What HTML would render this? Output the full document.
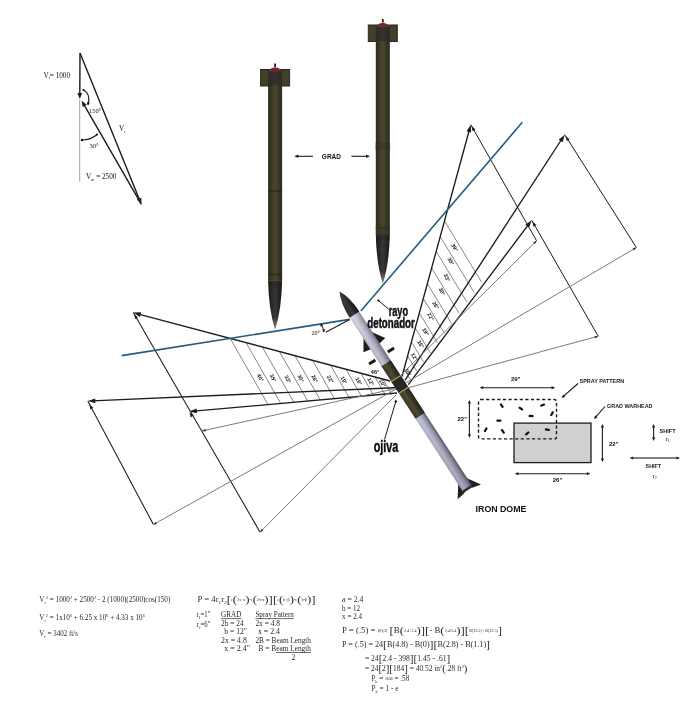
<!DOCTYPE html>
<html><head><meta charset="utf-8"><style>
html,body{margin:0;padding:0;background:#fff;width:700px;height:715px;overflow:hidden}
svg{display:block;will-change:transform}
</style></head><body>
<svg width="700" height="715" viewBox="0 0 700 715">
<rect width="700" height="715" fill="#fff"/>
<line x1="79.7" y1="100.0" x2="79.7" y2="181.5" stroke="#a0a0a0" stroke-width="1.0" />
<line x1="80.0" y1="53.0" x2="79.8" y2="95.4" stroke="#1c1c1c" stroke-width="1.4" />
<polygon points="79.8,99.0 77.4,93.0 82.2,93.0" fill="#1c1c1c"/>
<line x1="80.0" y1="53.0" x2="140.0" y2="201.0" stroke="#1c1c1c" stroke-width="1.4" />
<polygon points="141.4,204.3 136.9,199.6 141.4,197.8" fill="#1c1c1c"/>
<line x1="141.4" y1="204.3" x2="83.5" y2="103.8" stroke="#1c1c1c" stroke-width="1.4" />
<polygon points="81.7,100.7 86.8,104.7 82.6,107.1" fill="#1c1c1c"/>
<path d="M83.5,90 Q91,94 88,104.5" fill="none" stroke="#1c1c1c" stroke-width="1.2"/>
<circle cx="83.5" cy="90" r="1.1" fill="#111"/>
<polygon points="87.8,105.5 86.7,102.0 90.0,102.7" fill="#1c1c1c"/>
<path d="M82,140 Q91,140 97,134.5" fill="none" stroke="#1c1c1c" stroke-width="1.2"/>
<circle cx="82" cy="140" r="1.2" fill="#111"/>
<circle cx="97" cy="134.5" r="1" fill="#111"/>
<text x="43.5" y="77.5" font-family="Liberation Serif" font-size="7.2" font-weight="normal" text-anchor="start" fill="#111" >V<tspan font-size="4" dy="1.5">t</tspan><tspan dy="-1.5">= 1000</tspan></text>
<text x="89.0" y="112.5" font-family="Liberation Serif" font-size="6.4" font-weight="normal" text-anchor="start" fill="#111" >150°</text>
<text x="89.5" y="148.0" font-family="Liberation Serif" font-size="6.4" font-weight="normal" text-anchor="start" fill="#111" >30°</text>
<text x="119.0" y="131.0" font-family="Liberation Serif" font-size="7.2" font-weight="normal" text-anchor="start" fill="#111" >V<tspan font-size="4" dy="1.5">r</tspan></text>
<text x="86.0" y="179.0" font-family="Liberation Serif" font-size="7.2" font-weight="normal" text-anchor="start" fill="#111" >V<tspan font-size="4" dy="1.5">m</tspan><tspan dy="-1.5"> = 2500</tspan></text>
<line x1="230.2" y1="338.4" x2="268.0" y2="404.6" stroke="#6a6a6a" stroke-width="0.8" />
<line x1="246.0" y1="342.6" x2="280.7" y2="403.4" stroke="#6a6a6a" stroke-width="0.8" />
<line x1="262.2" y1="346.9" x2="293.8" y2="402.2" stroke="#6a6a6a" stroke-width="0.8" />
<line x1="279.5" y1="351.6" x2="307.7" y2="401.0" stroke="#6a6a6a" stroke-width="0.8" />
<line x1="295.0" y1="355.7" x2="320.2" y2="399.9" stroke="#6a6a6a" stroke-width="0.8" />
<line x1="312.5" y1="360.3" x2="334.4" y2="398.6" stroke="#6a6a6a" stroke-width="0.8" />
<line x1="330.5" y1="365.1" x2="348.9" y2="397.3" stroke="#6a6a6a" stroke-width="0.8" />
<line x1="346.0" y1="369.3" x2="361.4" y2="396.2" stroke="#6a6a6a" stroke-width="0.8" />
<line x1="361.0" y1="373.3" x2="373.5" y2="395.1" stroke="#6a6a6a" stroke-width="0.8" />
<line x1="375.0" y1="377.0" x2="384.8" y2="394.1" stroke="#6a6a6a" stroke-width="0.8" />
<line x1="383.0" y1="379.1" x2="391.2" y2="393.5" stroke="#6a6a6a" stroke-width="0.8" />
<text x="260" y="378" font-family="Liberation Sans" font-weight="bold" font-size="5.3" fill="#111" text-anchor="middle" dominant-baseline="middle" transform="rotate(62 260 378)">40°</text>
<text x="272.7" y="378.2" font-family="Liberation Sans" font-weight="bold" font-size="5.3" fill="#111" text-anchor="middle" dominant-baseline="middle" transform="rotate(62 272.7 378.2)">35°</text>
<text x="287.5" y="379.5" font-family="Liberation Sans" font-weight="bold" font-size="5.3" fill="#111" text-anchor="middle" dominant-baseline="middle" transform="rotate(62 287.5 379.5)">33°</text>
<text x="300.4" y="378.6" font-family="Liberation Sans" font-weight="bold" font-size="5.3" fill="#111" text-anchor="middle" dominant-baseline="middle" transform="rotate(62 300.4 378.6)">30°</text>
<text x="314.3" y="379" font-family="Liberation Sans" font-weight="bold" font-size="5.3" fill="#111" text-anchor="middle" dominant-baseline="middle" transform="rotate(62 314.3 379)">26°</text>
<text x="330" y="379.5" font-family="Liberation Sans" font-weight="bold" font-size="5.3" fill="#111" text-anchor="middle" dominant-baseline="middle" transform="rotate(62 330 379.5)">22°</text>
<text x="343.5" y="380.5" font-family="Liberation Sans" font-weight="bold" font-size="5.3" fill="#111" text-anchor="middle" dominant-baseline="middle" transform="rotate(62 343.5 380.5)">19°</text>
<text x="358.5" y="381.5" font-family="Liberation Sans" font-weight="bold" font-size="5.3" fill="#111" text-anchor="middle" dominant-baseline="middle" transform="rotate(62 358.5 381.5)">16°</text>
<text x="370.5" y="382" font-family="Liberation Sans" font-weight="bold" font-size="5.3" fill="#111" text-anchor="middle" dominant-baseline="middle" transform="rotate(62 370.5 382)">12°</text>
<text x="382" y="383.5" font-family="Liberation Sans" font-weight="bold" font-size="5.3" fill="#111" text-anchor="middle" dominant-baseline="middle" transform="rotate(62 382 383.5)">10°</text>
<line x1="390.0" y1="381.0" x2="137.6" y2="313.8" stroke="#1c1c1c" stroke-width="1.35" />
<polygon points="133.3,312.6 141.2,312.2 139.9,316.9" fill="#1c1c1c"/>
<line x1="400.0" y1="387.5" x2="92.3" y2="400.9" stroke="#1c1c1c" stroke-width="1.35" />
<polygon points="87.8,401.1 95.2,398.4 95.4,403.2" fill="#1c1c1c"/>
<line x1="397.0" y1="393.0" x2="193.8" y2="411.2" stroke="#1c1c1c" stroke-width="1.35" />
<polygon points="189.3,411.6 196.6,408.5 197.0,413.3" fill="#1c1c1c"/>
<line x1="133.3" y1="312.6" x2="260.1" y2="532.2" stroke="#1c1c1c" stroke-width="1.05" />
<line x1="87.8" y1="401.1" x2="153.4" y2="524.5" stroke="#1c1c1c" stroke-width="1.05" />
<line x1="260.1" y1="532.2" x2="396.0" y2="395.0" stroke="#7a7a7a" stroke-width="1.0" />
<line x1="153.4" y1="524.5" x2="397.0" y2="388.6" stroke="#7a7a7a" stroke-width="1.0" />
<line x1="201.7" y1="431.0" x2="396.0" y2="388.5" stroke="#7a7a7a" stroke-width="1.0" />
<polygon points="134.1,313.9 138.0,317.4 135.1,319.1" fill="#1c1c1c"/>
<polygon points="89.4,404.2 93.3,407.8 90.3,409.4" fill="#1c1c1c"/>
<polygon points="189.6,412.2 193.6,415.6 190.7,417.4" fill="#1c1c1c"/>
<polygon points="202.2,430.9 205.3,428.8 205.9,431.5" fill="#333"/>
<polygon points="260.1,532.2 261.6,528.8 263.5,530.6" fill="#333"/>
<polygon points="153.4,524.5 155.8,521.7 157.1,523.9" fill="#333"/>
<line x1="444.5" y1="221.0" x2="481.5" y2="282.0" stroke="#6a6a6a" stroke-width="0.8" />
<line x1="440.2" y1="236.6" x2="474.0" y2="292.3" stroke="#6a6a6a" stroke-width="0.8" />
<line x1="436.2" y1="251.4" x2="466.9" y2="302.1" stroke="#6a6a6a" stroke-width="0.8" />
<line x1="431.6" y1="268.0" x2="459.0" y2="313.1" stroke="#6a6a6a" stroke-width="0.8" />
<line x1="427.4" y1="283.7" x2="451.4" y2="323.4" stroke="#6a6a6a" stroke-width="0.8" />
<line x1="423.3" y1="298.4" x2="444.4" y2="333.1" stroke="#6a6a6a" stroke-width="0.8" />
<line x1="419.4" y1="313.0" x2="437.4" y2="342.8" stroke="#6a6a6a" stroke-width="0.8" />
<line x1="415.3" y1="328.0" x2="430.2" y2="352.7" stroke="#6a6a6a" stroke-width="0.8" />
<line x1="411.4" y1="342.0" x2="423.5" y2="361.9" stroke="#6a6a6a" stroke-width="0.8" />
<line x1="407.6" y1="356.0" x2="416.8" y2="371.2" stroke="#6a6a6a" stroke-width="0.8" />
<line x1="404.0" y1="369.0" x2="410.6" y2="379.8" stroke="#6a6a6a" stroke-width="0.8" />
<text x="454.2" y="247.7" font-family="Liberation Sans" font-weight="bold" font-size="5.3" fill="#111" text-anchor="middle" dominant-baseline="middle" transform="rotate(60 454.2 247.7)">39°</text>
<text x="450.4" y="261.5" font-family="Liberation Sans" font-weight="bold" font-size="5.3" fill="#111" text-anchor="middle" dominant-baseline="middle" transform="rotate(60 450.4 261.5)">35°</text>
<text x="446.6" y="277.9" font-family="Liberation Sans" font-weight="bold" font-size="5.3" fill="#111" text-anchor="middle" dominant-baseline="middle" transform="rotate(60 446.6 277.9)">33°</text>
<text x="441.6" y="291.7" font-family="Liberation Sans" font-weight="bold" font-size="5.3" fill="#111" text-anchor="middle" dominant-baseline="middle" transform="rotate(60 441.6 291.7)">30°</text>
<text x="435.3" y="305.5" font-family="Liberation Sans" font-weight="bold" font-size="5.3" fill="#111" text-anchor="middle" dominant-baseline="middle" transform="rotate(60 435.3 305.5)">26°</text>
<text x="430.3" y="316.9" font-family="Liberation Sans" font-weight="bold" font-size="5.3" fill="#111" text-anchor="middle" dominant-baseline="middle" transform="rotate(60 430.3 316.9)">22°</text>
<text x="425.2" y="332" font-family="Liberation Sans" font-weight="bold" font-size="5.3" fill="#111" text-anchor="middle" dominant-baseline="middle" transform="rotate(60 425.2 332)">19°</text>
<text x="420.2" y="344.5" font-family="Liberation Sans" font-weight="bold" font-size="5.3" fill="#111" text-anchor="middle" dominant-baseline="middle" transform="rotate(60 420.2 344.5)">16°</text>
<text x="413.9" y="357.1" font-family="Liberation Sans" font-weight="bold" font-size="5.3" fill="#111" text-anchor="middle" dominant-baseline="middle" transform="rotate(60 413.9 357.1)">12°</text>
<text x="407.6" y="372.2" font-family="Liberation Sans" font-weight="bold" font-size="5.3" fill="#111" text-anchor="middle" dominant-baseline="middle" transform="rotate(60 407.6 372.2)">10°</text>
<line x1="402.0" y1="376.5" x2="469.6" y2="129.0" stroke="#1c1c1c" stroke-width="1.35" />
<polygon points="470.8,124.7 471.1,132.6 466.5,131.3" fill="#1c1c1c"/>
<line x1="404.9" y1="380.3" x2="562.2" y2="138.5" stroke="#1c1c1c" stroke-width="1.35" />
<polygon points="564.7,134.7 562.6,142.3 558.6,139.7" fill="#1c1c1c"/>
<line x1="408.3" y1="384.6" x2="529.0" y2="223.8" stroke="#1c1c1c" stroke-width="1.35" />
<polygon points="531.7,220.2 529.1,227.6 525.3,224.8" fill="#1c1c1c"/>
<line x1="470.8" y1="124.7" x2="536.6" y2="240.8" stroke="#1c1c1c" stroke-width="1.0" />
<line x1="564.7" y1="134.7" x2="636.4" y2="247.5" stroke="#1c1c1c" stroke-width="1.0" />
<line x1="531.7" y1="220.2" x2="598.2" y2="336.2" stroke="#1c1c1c" stroke-width="1.0" />
<line x1="536.6" y1="240.8" x2="395.0" y2="381.0" stroke="#7a7a7a" stroke-width="1.0" />
<line x1="636.4" y1="247.5" x2="397.0" y2="388.0" stroke="#7a7a7a" stroke-width="1.0" />
<line x1="598.2" y1="336.2" x2="400.0" y2="390.0" stroke="#7a7a7a" stroke-width="1.0" />
<polygon points="471.5,126.0 475.5,129.5 472.5,131.2" fill="#1c1c1c"/>
<polygon points="565.5,136.0 569.6,139.3 566.8,141.1" fill="#1c1c1c"/>
<polygon points="532.4,221.5 536.4,225.0 533.5,226.7" fill="#1c1c1c"/>
<polygon points="536.6,240.8 535.0,244.2 533.2,242.3" fill="#333"/>
<polygon points="636.4,247.5 634.0,250.4 632.7,248.2" fill="#333"/>
<polygon points="598.2,336.2 595.2,338.4 594.5,335.9" fill="#333"/>
<line x1="121.7" y1="355.6" x2="349.7" y2="319.4" stroke="#265b7e" stroke-width="1.6" />
<line x1="360.9" y1="310.9" x2="522.3" y2="122.3" stroke="#265b7e" stroke-width="1.6" />
<line x1="349.7" y1="319.4" x2="325.7" y2="332.3" stroke="#1c1c1c" stroke-width="1.1" />
<path d="M320.5,324 Q324,328 323.5,332" fill="none" stroke="#1c1c1c" stroke-width="1"/>
<polygon points="320.3,323.5 323.4,325.0 320.8,326.9" fill="#1c1c1c"/>
<polygon points="323.7,332.5 322.4,329.4 325.6,329.6" fill="#1c1c1c"/>
<text x="311.5" y="334.5" font-family="Liberation Serif" font-size="6" font-weight="normal" text-anchor="start" fill="#111" >20°</text>
<defs><linearGradient id="og275" x1="0" x2="1" y1="0" y2="0"><stop offset="0" stop-color="#2c2a1a"/><stop offset="0.5" stop-color="#4a4630"/><stop offset="1" stop-color="#2a281a"/></linearGradient><linearGradient id="ng275" x1="0" x2="1" y1="0" y2="0"><stop offset="0" stop-color="#1a1a1a"/><stop offset="0.5" stop-color="#383838"/><stop offset="1" stop-color="#161616"/></linearGradient></defs>
<rect x="260.6" y="69.5" width="29" height="16.5" fill="#434029" stroke="#29271a" stroke-width="1"/>
<rect x="268.1" y="69.5" width="14" height="210.8" fill="url(#og275)"/>
<rect x="268.6" y="69.5" width="13" height="16" fill="#2c2b2e" opacity="0.7"/>
<path d="M268.6,71.5 Q270.1,67.5 275.1,67.2 Q280.1,67.5 281.6,71.5 Z" fill="#762830"/>
<rect x="274.20000000000005" y="63.5" width="1.8" height="3.5" fill="#3a1a1a"/>
<defs><linearGradient id="nv275" x1="0" x2="0" y1="280.3" y2="329.5" gradientUnits="userSpaceOnUse"><stop offset="0" stop-color="#3a3422" stop-opacity="0.6"/><stop offset="0.15" stop-color="#000" stop-opacity="0"/><stop offset="0.75" stop-color="#fff" stop-opacity="0"/><stop offset="1" stop-color="#fff" stop-opacity="0.4"/></linearGradient></defs>
<path d="M268.1,280.3 L282.1,280.3 Q281.6,309.82 275.1,329.5 Q268.6,309.82 268.1,280.3 Z" fill="url(#ng275)"/>
<path d="M268.1,280.3 L282.1,280.3 Q281.6,309.82 275.1,329.5 Q268.6,309.82 268.1,280.3 Z" fill="url(#nv275)"/>
<rect x="268.1" y="273.3" width="14" height="2" fill="#2a2818" opacity="0.6"/>
<rect x="268.1" y="190" width="14" height="2" fill="#2a2818" opacity="0.6"/>
<defs><linearGradient id="og382" x1="0" x2="1" y1="0" y2="0"><stop offset="0" stop-color="#2c2a1a"/><stop offset="0.5" stop-color="#4a4630"/><stop offset="1" stop-color="#2a281a"/></linearGradient><linearGradient id="ng382" x1="0" x2="1" y1="0" y2="0"><stop offset="0" stop-color="#1a1a1a"/><stop offset="0.5" stop-color="#383838"/><stop offset="1" stop-color="#161616"/></linearGradient></defs>
<rect x="368.3" y="25.0" width="29" height="16.5" fill="#434029" stroke="#29271a" stroke-width="1"/>
<rect x="375.8" y="25.0" width="14" height="209.0" fill="url(#og382)"/>
<rect x="376.3" y="25.0" width="13" height="16" fill="#2c2b2e" opacity="0.7"/>
<path d="M376.3,27.0 Q377.8,23.0 382.8,22.7 Q387.8,23.0 389.3,27.0 Z" fill="#762830"/>
<rect x="381.90000000000003" y="19.0" width="1.8" height="3.5" fill="#3a1a1a"/>
<defs><linearGradient id="nv382" x1="0" x2="0" y1="234" y2="283.5" gradientUnits="userSpaceOnUse"><stop offset="0" stop-color="#3a3422" stop-opacity="0.6"/><stop offset="0.15" stop-color="#000" stop-opacity="0"/><stop offset="0.75" stop-color="#fff" stop-opacity="0"/><stop offset="1" stop-color="#fff" stop-opacity="0.4"/></linearGradient></defs>
<path d="M375.8,234 L389.8,234 Q389.3,263.7 382.8,283.5 Q376.3,263.7 375.8,234 Z" fill="url(#ng382)"/>
<path d="M375.8,234 L389.8,234 Q389.3,263.7 382.8,283.5 Q376.3,263.7 375.8,234 Z" fill="url(#nv382)"/>
<rect x="375.8" y="227" width="14" height="2" fill="#2a2818" opacity="0.6"/>
<rect x="375.8" y="226" width="14" height="8" fill="#3a3724" opacity="0.5"/>
<rect x="375.3" y="143" width="15" height="7" fill="#2e2b1d" opacity="0.35"/>
<line x1="312.9" y1="156.3" x2="296.7" y2="156.3" stroke="#1c1c1c" stroke-width="1.1" />
<polygon points="294.3,156.3 298.3,154.5 298.3,158.1" fill="#1c1c1c"/>
<line x1="351.4" y1="156.3" x2="367.6" y2="156.3" stroke="#1c1c1c" stroke-width="1.1" />
<polygon points="370.0,156.3 366.0,158.1 366.0,154.5" fill="#1c1c1c"/>
<text x="331.4" y="159.2" font-family="Liberation Sans" font-size="6.5" font-weight="bold" text-anchor="middle" fill="#111" >GRAD</text>
<g transform="translate(339.5,291.5) rotate(57)">
<defs><linearGradient id="bg" x1="0" x2="0" y1="-5.5" y2="5.5" gradientUnits="userSpaceOnUse"><stop offset="0" stop-color="#5e5e70"/><stop offset="0.3" stop-color="#9c9cb4"/><stop offset="0.7" stop-color="#cacade"/><stop offset="1" stop-color="#b4b4c8"/></linearGradient><linearGradient id="ax" x1="27" x2="236" y1="0" y2="0" gradientUnits="userSpaceOnUse"><stop offset="0" stop-color="#ffffff" stop-opacity="0.25"/><stop offset="0.5" stop-color="#000" stop-opacity="0"/><stop offset="1" stop-color="#000000" stop-opacity="0.18"/></linearGradient><linearGradient id="olg" x1="0" x2="0" y1="-5.5" y2="5.5" gradientUnits="userSpaceOnUse"><stop offset="0" stop-color="#22211a"/><stop offset="0.6" stop-color="#4e4a33"/><stop offset="1" stop-color="#3a3726"/></linearGradient><linearGradient id="ng" x1="0" x2="0" y1="-5.5" y2="5.5" gradientUnits="userSpaceOnUse"><stop offset="0" stop-color="#151515"/><stop offset="0.6" stop-color="#3a3a3a"/><stop offset="1" stop-color="#2a2a2a"/></linearGradient></defs>
<polygon points="51,-4.5 64,-13 65.5,-4.5" fill="#1e1e1e"/>
<polygon points="51,4.5 64,13 65.5,4.5" fill="#1e1e1e"/>
<rect x="75.5" y="-15" width="3" height="7.5" fill="#1a1a1a"/>
<rect x="75.5" y="7.2" width="3" height="7.5" fill="#1a1a1a"/>
<polygon points="225,-4.5 239,-13.5 237,-4.5" fill="#1e1e1e"/>
<polygon points="225,4.5 238.5,14 237,4.5" fill="#1e1e1e"/>
<rect x="27" y="-5.5" width="209" height="11" fill="url(#bg)"/>
<rect x="27" y="-5.5" width="209" height="11" fill="url(#ax)"/>
<rect x="85.6" y="-5.5" width="62.5" height="11" fill="url(#olg)"/>
<rect x="104" y="-5.5" width="13.5" height="11" fill="#28281f"/>
<rect x="103.2" y="-5.5" width="1.2" height="11" fill="#b0a070"/>
<rect x="117.2" y="-5.5" width="1.2" height="11" fill="#b0a070"/>
<path d="M0,0 Q10,-5.5 27.5,-5.8 L27.5,5.8 Q10,5.5 0,0 Z" fill="url(#ng)"/>
<rect x="234" y="-5.5" width="2.5" height="11" fill="#2a2a30"/>
</g>
<text x="388.7" y="315.6" font-family="Liberation Sans" font-weight="bold" font-size="14" fill="#111" stroke="#111" stroke-width="0.5" textLength="19.3" lengthAdjust="spacingAndGlyphs">rayo</text>
<text x="367.3" y="327.6" font-family="Liberation Sans" font-weight="bold" font-size="14" fill="#111" stroke="#111" stroke-width="0.5" textLength="47.5" lengthAdjust="spacingAndGlyphs">detonador</text>
<line x1="388.7" y1="309.1" x2="378.4" y2="300.6" stroke="#1c1c1c" stroke-width="1.0" />
<circle cx="378.4" cy="300.6" r="1.1" fill="#111"/>
<text x="373.7" y="451.5" font-family="Liberation Sans" font-weight="bold" font-size="17" fill="#111" stroke="#111" stroke-width="0.5" textLength="24.7" lengthAdjust="spacingAndGlyphs">ojiva</text>
<line x1="384.6" y1="439.2" x2="395.8" y2="401.5" stroke="#1c1c1c" stroke-width="1.0" />
<circle cx="395.8" cy="401.5" r="1.2" fill="#111"/>
<text x="375.0" y="374.0" font-family="Liberation Sans" font-size="5.5" font-weight="bold" text-anchor="middle" fill="#111" >46°</text>
<text x="475.6" y="512.3" font-family="Liberation Sans" font-size="9.6" font-weight="bold" text-anchor="start" fill="#111" textLength="50.8" lengthAdjust="spacingAndGlyphs">IRON DOME</text>
<rect x="514" y="423.1" width="77" height="39.5" fill="#d0d0d0" stroke="#1c1c1c" stroke-width="1.3"/>
<rect x="478.5" y="399.5" width="78" height="39.4" rx="2" fill="none" stroke="#1c1c1c" stroke-width="1.4" stroke-dasharray="3.2 2.4"/>
<rect x="499.2" y="404.59999999999997" width="5" height="2.2" rx="0.7" fill="#111" transform="rotate(55 501.7 405.7)"/>
<rect x="518.4" y="407.5" width="5" height="2.2" rx="0.7" fill="#111" transform="rotate(35 520.9 408.6)"/>
<rect x="540.1" y="404.0" width="5" height="2.2" rx="0.7" fill="#111" transform="rotate(-20 542.6 405.1)"/>
<rect x="549.5" y="412.59999999999997" width="5" height="2.2" rx="0.7" fill="#111" transform="rotate(-60 552 413.7)"/>
<rect x="528.6" y="414.9" width="5" height="2.2" rx="0.7" fill="#111" transform="rotate(5 531.1 416)"/>
<rect x="496.4" y="419.5" width="5" height="2.2" rx="0.7" fill="#111" transform="rotate(0 498.9 420.6)"/>
<rect x="483.2" y="428.59999999999997" width="5" height="2.2" rx="0.7" fill="#111" transform="rotate(-60 485.7 429.7)"/>
<rect x="500.4" y="430.29999999999995" width="5" height="2.2" rx="0.7" fill="#111" transform="rotate(55 502.9 431.4)"/>
<rect x="524.7" y="432.29999999999995" width="5" height="2.2" rx="0.7" fill="#111" transform="rotate(-40 527.2 433.4)"/>
<rect x="544.9" y="428.59999999999997" width="5" height="2.2" rx="0.7" fill="#111" transform="rotate(10 547.4 429.7)"/>
<line x1="517.0" y1="387.7" x2="481.8" y2="387.7" stroke="#1c1c1c" stroke-width="1.1" />
<polygon points="479.7,387.7 483.2,386.1 483.2,389.3" fill="#1c1c1c"/>
<line x1="517.0" y1="387.7" x2="553.0" y2="387.7" stroke="#1c1c1c" stroke-width="1.1" />
<polygon points="555.1,387.7 551.6,389.3 551.6,386.1" fill="#1c1c1c"/>
<text x="515.7" y="380.5" font-family="Liberation Sans" font-size="6" font-weight="bold" text-anchor="middle" fill="#111" >29"</text>
<line x1="469.4" y1="418.0" x2="469.4" y2="402.1" stroke="#1c1c1c" stroke-width="1.1" />
<polygon points="469.4,400.0 471.0,403.5 467.8,403.5" fill="#1c1c1c"/>
<line x1="469.4" y1="418.0" x2="469.4" y2="435.6" stroke="#1c1c1c" stroke-width="1.1" />
<polygon points="469.4,437.7 467.8,434.2 471.0,434.2" fill="#1c1c1c"/>
<text x="467.0" y="421.0" font-family="Liberation Sans" font-size="6" font-weight="bold" text-anchor="end" fill="#111" >22"</text>
<line x1="552.0" y1="473.7" x2="517.0" y2="473.7" stroke="#1c1c1c" stroke-width="1.1" />
<polygon points="514.9,473.7 518.4,472.1 518.4,475.3" fill="#1c1c1c"/>
<line x1="552.0" y1="473.7" x2="588.3" y2="473.7" stroke="#1c1c1c" stroke-width="1.1" />
<polygon points="590.4,473.7 586.9,475.3 586.9,472.1" fill="#1c1c1c"/>
<text x="557.5" y="482.0" font-family="Liberation Sans" font-size="6" font-weight="bold" text-anchor="middle" fill="#111" >26"</text>
<line x1="602.4" y1="443.0" x2="602.4" y2="426.1" stroke="#1c1c1c" stroke-width="1.1" />
<polygon points="602.4,424.0 604.0,427.5 600.8,427.5" fill="#1c1c1c"/>
<line x1="602.4" y1="443.0" x2="602.4" y2="459.9" stroke="#1c1c1c" stroke-width="1.1" />
<polygon points="602.4,462.0 600.8,458.5 604.0,458.5" fill="#1c1c1c"/>
<text x="609.0" y="446.0" font-family="Liberation Sans" font-size="6" font-weight="bold" text-anchor="start" fill="#111" >22"</text>
<text x="579.6" y="383.0" font-family="Liberation Sans" font-size="6.2" font-weight="bold" text-anchor="start" fill="#222" textLength="44.5" lengthAdjust="spacingAndGlyphs">SPRAY PATTERN</text>
<line x1="578.0" y1="383.5" x2="563.1" y2="396.6" stroke="#1c1c1c" stroke-width="1.1" />
<polygon points="561.5,398.0 563.1,394.5 565.2,396.9" fill="#1c1c1c"/>
<text x="607.0" y="407.5" font-family="Liberation Sans" font-size="6.2" font-weight="bold" text-anchor="start" fill="#222" textLength="45.5" lengthAdjust="spacingAndGlyphs">GRAD WARHEAD</text>
<line x1="605.0" y1="406.5" x2="595.4" y2="417.4" stroke="#1c1c1c" stroke-width="1.1" />
<polygon points="594.0,419.0 595.1,415.3 597.5,417.4" fill="#1c1c1c"/>
<line x1="653.6" y1="432.0" x2="653.6" y2="426.1" stroke="#1c1c1c" stroke-width="1.1" />
<polygon points="653.6,424.0 655.2,427.5 652.0,427.5" fill="#1c1c1c"/>
<line x1="653.6" y1="432.0" x2="653.6" y2="438.9" stroke="#1c1c1c" stroke-width="1.1" />
<polygon points="653.6,441.0 652.0,437.5 655.2,437.5" fill="#1c1c1c"/>
<text x="659.6" y="432.5" font-family="Liberation Sans" font-size="6.2" font-weight="bold" text-anchor="start" fill="#222" textLength="16" lengthAdjust="spacingAndGlyphs">SHIFT</text>
<text x="665.5" y="440.5" font-family="Liberation Serif" font-size="7" font-weight="normal" text-anchor="start" fill="#111" >r<tspan font-size="4" dy="1.5">1</tspan></text>
<line x1="655.0" y1="458.0" x2="631.7" y2="458.0" stroke="#1c1c1c" stroke-width="1.1" />
<polygon points="629.6,458.0 633.1,456.4 633.1,459.6" fill="#1c1c1c"/>
<line x1="655.0" y1="458.0" x2="677.9" y2="458.0" stroke="#1c1c1c" stroke-width="1.1" />
<polygon points="680.0,458.0 676.5,459.6 676.5,456.4" fill="#1c1c1c"/>
<text x="645.6" y="467.5" font-family="Liberation Sans" font-size="6.2" font-weight="bold" text-anchor="start" fill="#222" textLength="15.5" lengthAdjust="spacingAndGlyphs">SHIFT</text>
<text x="652.5" y="477.5" font-family="Liberation Serif" font-size="7" font-weight="normal" text-anchor="start" fill="#111" >r<tspan font-size="4" dy="1.5">2</tspan></text>
<text x="39.3" y="602" font-family="Liberation Serif" font-size="7.5" fill="#2a2a2a" textLength="131" lengthAdjust="spacingAndGlyphs" >V<tspan font-size="4.5" dy="2">r</tspan><tspan dy="-2">​</tspan><tspan font-size="4.5" dy="-3">2</tspan><tspan dy="3">​</tspan> = 1000<tspan font-size="4.5" dy="-3">2</tspan><tspan dy="3">​</tspan> + 2500<tspan font-size="4.5" dy="-3">2</tspan><tspan dy="3">​</tspan> - 2 (1000)(2500)cos(150)</text>
<text x="39.3" y="620" font-family="Liberation Serif" font-size="7.5" fill="#2a2a2a" textLength="105.5" lengthAdjust="spacingAndGlyphs" >V<tspan font-size="4.5" dy="2">r</tspan><tspan dy="-2">​</tspan><tspan font-size="4.5" dy="-3">2</tspan><tspan dy="3">​</tspan> = 1x10<tspan font-size="4.5" dy="-3">6</tspan><tspan dy="3">​</tspan> + 6.25 x 10<tspan font-size="4.5" dy="-3">6</tspan><tspan dy="3">​</tspan> + 4.33 x 10<tspan font-size="4.5" dy="-3">6</tspan><tspan dy="3">​</tspan></text>
<text x="39.3" y="636" font-family="Liberation Serif" font-size="7.5" fill="#2a2a2a" textLength="38.6" lengthAdjust="spacingAndGlyphs" >V<tspan font-size="4.5" dy="2">r</tspan><tspan dy="-2">​</tspan> = 3402 ft/s</text>
<text x="197.5" y="602" font-family="Liberation Serif" font-size="7.5" fill="#2a2a2a" textLength="118" lengthAdjust="spacingAndGlyphs" >P = 4r<tspan font-size="4.5" dy="2">1</tspan><tspan dy="-2">​</tspan>r<tspan font-size="4.5" dy="2">2</tspan><tspan dy="-2">​</tspan><tspan font-size="11" dy="1">[</tspan><tspan dy="-1">​</tspan><tspan font-size="3.5" dy="-1">e</tspan><tspan dy="1">​</tspan><tspan font-size="11" dy="1">(</tspan><tspan dy="-1">​</tspan><tspan font-size="3.5" dy="-1">2x+a</tspan><tspan dy="1">​</tspan><tspan font-size="11" dy="1">)</tspan><tspan dy="-1">​</tspan><tspan font-size="3.5" dy="-1">-e</tspan><tspan dy="1">​</tspan><tspan font-size="11" dy="1">(</tspan><tspan dy="-1">​</tspan><tspan font-size="3.5" dy="-1">2x-a</tspan><tspan dy="1">​</tspan><tspan font-size="11" dy="1">)</tspan><tspan dy="-1">​</tspan><tspan font-size="11" dy="1">]</tspan><tspan dy="-1">​</tspan><tspan font-size="11" dy="1">[</tspan><tspan dy="-1">​</tspan><tspan font-size="3.5" dy="-1">e</tspan><tspan dy="1">​</tspan><tspan font-size="11" dy="1">(</tspan><tspan dy="-1">​</tspan><tspan font-size="3.5" dy="-1">b+β</tspan><tspan dy="1">​</tspan><tspan font-size="11" dy="1">)</tspan><tspan dy="-1">​</tspan><tspan font-size="3.5" dy="-1">-e</tspan><tspan dy="1">​</tspan><tspan font-size="11" dy="1">(</tspan><tspan dy="-1">​</tspan><tspan font-size="3.5" dy="-1">b-β</tspan><tspan dy="1">​</tspan><tspan font-size="11" dy="1">)</tspan><tspan dy="-1">​</tspan><tspan font-size="11" dy="1">]</tspan><tspan dy="-1">​</tspan></text>
<text x="196.4" y="617" font-family="Liberation Serif" font-size="7.5" fill="#2a2a2a" textLength="14" lengthAdjust="spacingAndGlyphs" >r<tspan font-size="4.5" dy="2">1</tspan><tspan dy="-2">​</tspan>=1"</text>
<text x="196.4" y="627" font-family="Liberation Serif" font-size="7.5" fill="#2a2a2a" textLength="14" lengthAdjust="spacingAndGlyphs" >r<tspan font-size="4.5" dy="2">2</tspan><tspan dy="-2">​</tspan>=6"</text>
<text x="221" y="617" font-family="Liberation Serif" font-size="7.5" fill="#2a2a2a" textLength="20.4" lengthAdjust="spacingAndGlyphs" >GRAD</text>
<line x1="221.0" y1="618.6" x2="241.4" y2="618.6" stroke="#2a2a2a" stroke-width="0.7" />
<text x="255.4" y="617" font-family="Liberation Serif" font-size="7.5" fill="#2a2a2a" textLength="38.5" lengthAdjust="spacingAndGlyphs" >Spray Pattern</text>
<line x1="255.4" y1="618.6" x2="293.9" y2="618.6" stroke="#2a2a2a" stroke-width="0.7" />
<text x="221" y="625.8" font-family="Liberation Serif" font-size="7.5" fill="#2a2a2a" textLength="22.7" lengthAdjust="spacingAndGlyphs" >2b =  24</text>
<text x="255.4" y="625.8" font-family="Liberation Serif" font-size="7.5" fill="#2a2a2a" textLength="24.6" lengthAdjust="spacingAndGlyphs" >2x =  4.8</text>
<text x="224.3" y="634" font-family="Liberation Serif" font-size="7.5" fill="#2a2a2a" textLength="22.5" lengthAdjust="spacingAndGlyphs" >b =  12"</text>
<text x="258" y="634" font-family="Liberation Serif" font-size="7.5" fill="#2a2a2a" textLength="22" lengthAdjust="spacingAndGlyphs" >x =  2.4</text>
<text x="221" y="642.8" font-family="Liberation Serif" font-size="7.5" fill="#2a2a2a" textLength="25.8" lengthAdjust="spacingAndGlyphs" >2x =  4.8</text>
<text x="255.4" y="642.8" font-family="Liberation Serif" font-size="7.5" fill="#2a2a2a" textLength="55.6" lengthAdjust="spacingAndGlyphs" >2B =  Beam Length</text>
<text x="224.3" y="651" font-family="Liberation Serif" font-size="7.5" fill="#2a2a2a" textLength="25.7" lengthAdjust="spacingAndGlyphs" >x =  2.4"</text>
<text x="258.6" y="651" font-family="Liberation Serif" font-size="7.5" fill="#2a2a2a" textLength="52.4" lengthAdjust="spacingAndGlyphs" >B =  Beam Length</text>
<line x1="276.0" y1="652.5" x2="311.0" y2="652.5" stroke="#2a2a2a" stroke-width="0.7" />
<text x="291.5" y="660" font-family="Liberation Serif" font-size="7.5" fill="#2a2a2a"  >2</text>
<text x="342.1" y="601.6" font-family="Liberation Serif" font-size="7.5" fill="#2a2a2a" textLength="21.2" lengthAdjust="spacingAndGlyphs" >a =  2.4</text>
<text x="342.1" y="610.6" font-family="Liberation Serif" font-size="7.5" fill="#2a2a2a" textLength="17.9" lengthAdjust="spacingAndGlyphs" >b = 12</text>
<text x="342.1" y="618.5" font-family="Liberation Serif" font-size="7.5" fill="#2a2a2a" textLength="19.9" lengthAdjust="spacingAndGlyphs" >x = 2.4</text>
<text x="342.1" y="633" font-family="Liberation Serif" font-size="7.5" fill="#2a2a2a" textLength="160" lengthAdjust="spacingAndGlyphs" >P = (.5) = <tspan font-size="3.5" dy="-1">(8)(3)</tspan><tspan dy="1">​</tspan> <tspan font-size="11" dy="1">[</tspan><tspan dy="-1">​</tspan>B<tspan font-size="11" dy="1">(</tspan><tspan dy="-1">​</tspan><tspan font-size="3.5" dy="-1">2.4+2.4</tspan><tspan dy="1">​</tspan><tspan font-size="11" dy="1">)</tspan><tspan dy="-1">​</tspan><tspan font-size="11" dy="1">]</tspan><tspan dy="-1">​</tspan><tspan font-size="11" dy="1">[</tspan><tspan dy="-1">​</tspan>- B<tspan font-size="11" dy="1">(</tspan><tspan dy="-1">​</tspan><tspan font-size="3.5" dy="-1">2.4-2.4</tspan><tspan dy="1">​</tspan><tspan font-size="11" dy="1">)</tspan><tspan dy="-1">​</tspan><tspan font-size="11" dy="1">]</tspan><tspan dy="-1">​</tspan><tspan font-size="11" dy="1">[</tspan><tspan dy="-1">​</tspan><tspan font-size="3.5" dy="-1">B(12.5) - B(12.5)</tspan><tspan dy="1">​</tspan><tspan font-size="11" dy="1">]</tspan><tspan dy="-1">​</tspan></text>
<text x="342.1" y="646.6" font-family="Liberation Serif" font-size="7.5" fill="#2a2a2a" textLength="148" lengthAdjust="spacingAndGlyphs" >P = (.5) = 24<tspan font-size="11" dy="1">[</tspan><tspan dy="-1">​</tspan>B(4.8) - B(0)<tspan font-size="11" dy="1">]</tspan><tspan dy="-1">​</tspan><tspan font-size="11" dy="1">[</tspan><tspan dy="-1">​</tspan>B(2.8) - B(1.1)<tspan font-size="11" dy="1">]</tspan><tspan dy="-1">​</tspan></text>
<text x="364.9" y="660.7" font-family="Liberation Serif" font-size="7.5" fill="#2a2a2a" textLength="85.4" lengthAdjust="spacingAndGlyphs" >= 24<tspan font-size="11" dy="1">[</tspan><tspan dy="-1">​</tspan>2.4 - 398<tspan font-size="11" dy="1">]</tspan><tspan dy="-1">​</tspan><tspan font-size="11" dy="1">[</tspan><tspan dy="-1">​</tspan>1.45 - .61<tspan font-size="11" dy="1">]</tspan><tspan dy="-1">​</tspan></text>
<text x="364.9" y="671.4" font-family="Liberation Serif" font-size="7.5" fill="#2a2a2a" textLength="102.6" lengthAdjust="spacingAndGlyphs" >= 24<tspan font-size="11" dy="1">[</tspan><tspan dy="-1">​</tspan>2<tspan font-size="11" dy="1">]</tspan><tspan dy="-1">​</tspan><tspan font-size="11" dy="1">[</tspan><tspan dy="-1">​</tspan>184<tspan font-size="11" dy="1">]</tspan><tspan dy="-1">​</tspan> = 40.52 in<tspan font-size="4.5" dy="-3">2</tspan><tspan dy="3">​</tspan><tspan font-size="11" dy="1">(</tspan><tspan dy="-1">​</tspan>.28 ft<tspan font-size="4.5" dy="-3">2</tspan><tspan dy="3">​</tspan><tspan font-size="11" dy="1">)</tspan><tspan dy="-1">​</tspan></text>
<text x="371.4" y="681.2" font-family="Liberation Serif" font-size="7.5" fill="#2a2a2a" textLength="37.8" lengthAdjust="spacingAndGlyphs" >P<tspan font-size="4.5" dy="2">k</tspan><tspan dy="-2">​</tspan> = <tspan font-size="3.5" dy="-1">28/48</tspan><tspan dy="1">​</tspan> = .58</text>
<text x="371.4" y="691" font-family="Liberation Serif" font-size="7.5" fill="#2a2a2a" textLength="27.1" lengthAdjust="spacingAndGlyphs" >P<tspan font-size="4.5" dy="2">k</tspan><tspan dy="-2">​</tspan> = 1 - e</text>
</svg></body></html>
